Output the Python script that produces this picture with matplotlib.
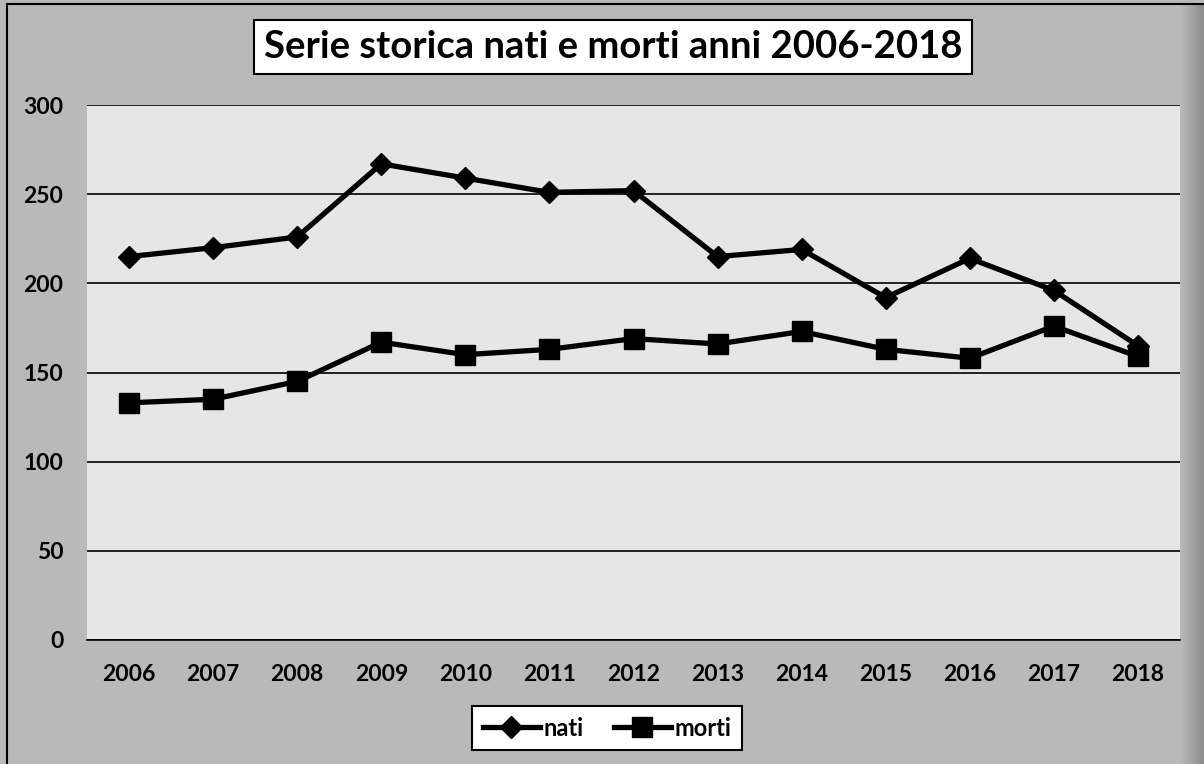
import numpy as np
import matplotlib
matplotlib.use("Agg")
import matplotlib.pyplot as plt
from matplotlib.lines import Line2D

# dati
anni = ['2006', '2007', '2008', '2009', '2010', '2011', '2012',
        '2013', '2014', '2015', '2016', '2017', '2018']
nati = [215, 220, 226, 267, 259, 251, 252, 215, 219, 192, 214, 196, 165]
morti = [133, 135, 145, 167, 160, 163, 169, 166, 173, 163, 158, 176, 159]
y_ticks = [0, 50, 100, 150, 200, 250, 300]

plt.rcParams['font.family'] = ['Lato', 'DejaVu Sans']

fig = plt.figure(figsize=(12.04, 7.64), dpi=100)
fig.patch.set_facecolor('#b9b9b9')

# bordo esterno (solo sinistra e alto visibili)
fig.add_artist(Line2D([7 / 1204, 7 / 1204], [0, 1 - 4 / 764], transform=fig.transFigure,
                      color='black', lw=1.5))
fig.add_artist(Line2D([7 / 1204, 1], [1 - 4 / 764, 1 - 4 / 764], transform=fig.transFigure,
                      color='black', lw=1.5))

# ombra sul lato destro
grad = np.linspace(0.73, 0.55, 50).reshape(1, -1)
ax_sh = fig.add_axes([1180 / 1204, 0, 24 / 1204, 1 - 4 / 764])
ax_sh.imshow(grad, cmap='gray', vmin=0, vmax=1, aspect='auto')
ax_sh.axis('off')

ax = fig.add_axes([87 / 1204, 1 - 640 / 764, 1093 / 1204, 535 / 764])
ax.set_facecolor('#e6e6e6')

x = np.arange(len(anni))
ax.plot(x, nati, color='black', lw=3.8, marker='D', markersize=11, zorder=3)
ax.plot(x, morti, color='black', lw=3.8, marker='s', markersize=14, zorder=3)

ax.set_xlim(-0.5, len(anni) - 0.5)
ax.set_ylim(0, 300)
ax.set_yticks(y_ticks)
ax.set_xticks(x)
ax.set_xticklabels(anni)
ax.grid(axis='y', color='black', lw=1.2)
ax.set_axisbelow(True)
for s in ['left', 'right', 'top']:
    ax.spines[s].set_visible(False)
ax.spines['bottom'].set_color('black')
ax.spines['bottom'].set_linewidth(1.2)
ax.tick_params(length=0, labelsize=16.5)
ax.tick_params(axis='y', pad=17)
ax.tick_params(axis='x', pad=17)
for lab in ax.get_xticklabels() + ax.get_yticklabels():
    lab.set_fontweight('bold')

# titolo in riquadro bianco
fig.text(613 / 1204, 1 - 47 / 764, 'Serie storica nati e morti anni 2006-2018',
         ha='center', va='center', fontsize=27.5, fontweight='bold',
         bbox=dict(boxstyle='square,pad=0.25', facecolor='white', edgecolor='black', lw=1.5))

# legenda
h1 = Line2D([], [], color='black', lw=3.8, marker='D', markersize=11)
h2 = Line2D([], [], color='black', lw=3.8, marker='s', markersize=14)
leg = fig.legend([h1, h2], ['nati', 'morti'], loc='center',
                 bbox_to_anchor=(607 / 1204, 1 - 728 / 764), ncol=2,
                 frameon=True, fancybox=False, edgecolor='black', facecolor='white',
                 framealpha=1, prop={'weight': 'bold', 'size': 17},
                 handlelength=2.4, handletextpad=0.15, columnspacing=1.3,
                 borderpad=0.45, borderaxespad=0)
leg.get_frame().set_linewidth(1.5)

fig.savefig('out.png', dpi=100, facecolor=fig.get_facecolor())
